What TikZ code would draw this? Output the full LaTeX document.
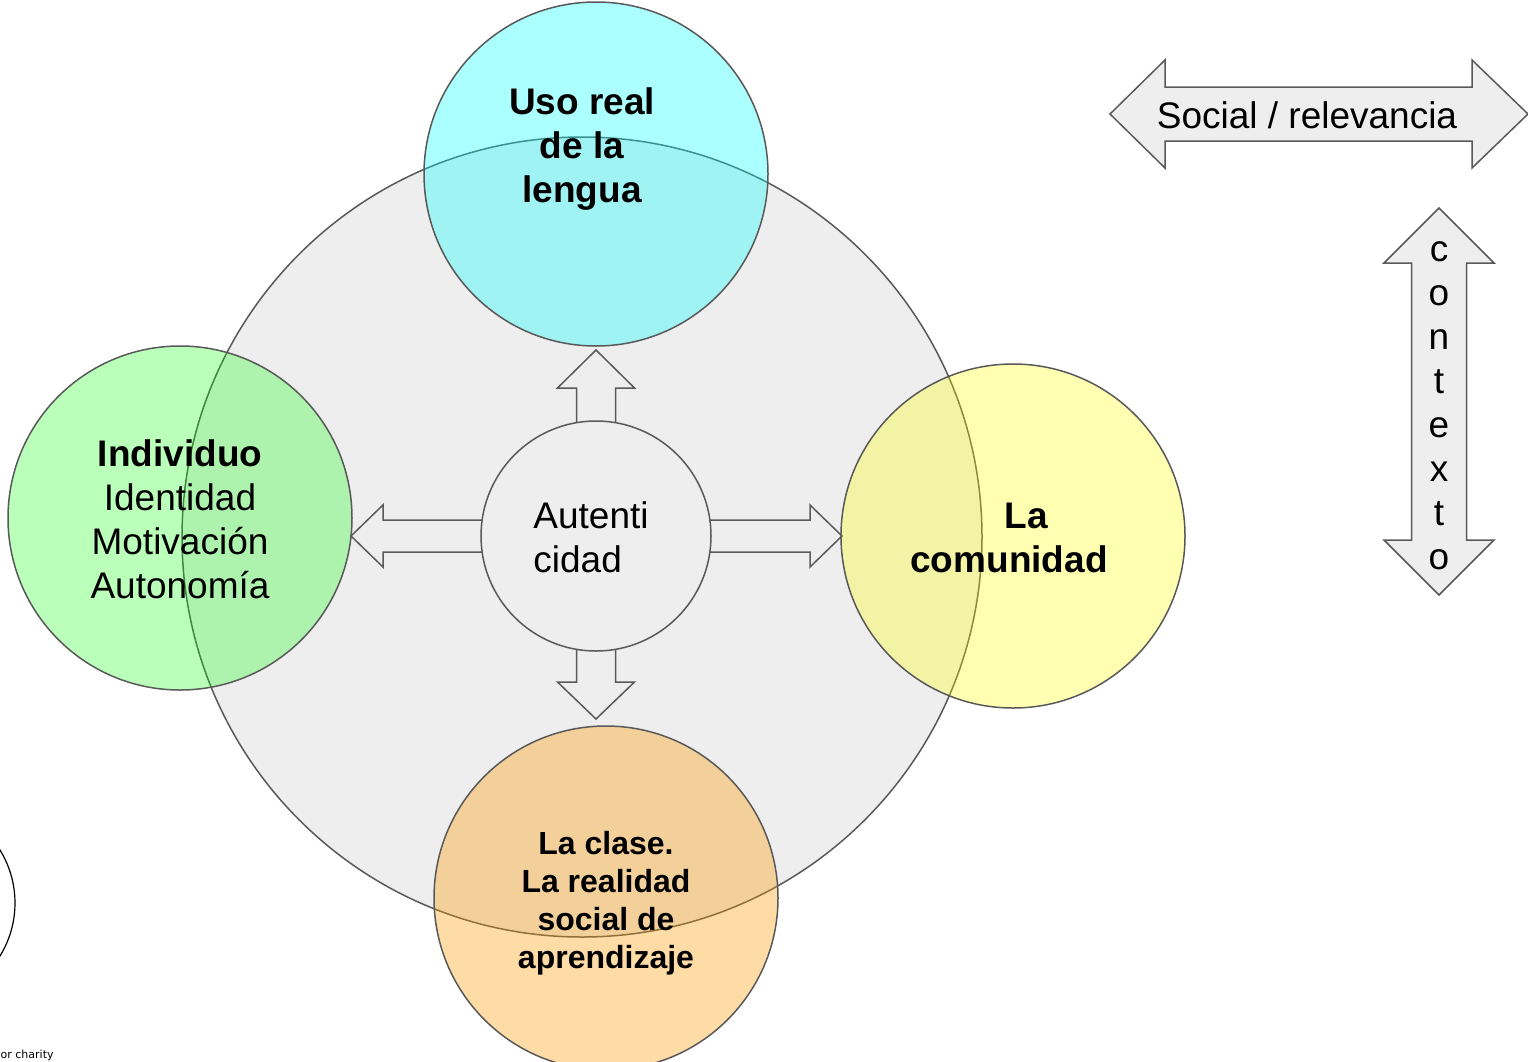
\documentclass[tikz,border=0pt]{standalone}
\usepackage{fontspec}
\setmainfont{Liberation Sans}
\newfontfamily\notefont{DejaVu Sans}
\usetikzlibrary{positioning}
\definecolor{linegray}{HTML}{595959}
\definecolor{bggray}{HTML}{EEEEEE}
\definecolor{usocol}{RGB}{0,255,255}
\definecolor{indcol}{RGB}{0,255,0}
\definecolor{comcol}{RGB}{255,255,0}
\definecolor{clasecol}{RGB}{255,153,0}
\tikzset{ring/.style = {circle, draw=linegray, line width=1.5pt, inner sep=0}}
\tikzset{blob/.style = {ring, minimum size=344pt}}
\tikzset{blockarrow/.style = {draw=linegray, fill=bggray, line width=1.5pt, line join=miter}}
\tikzset{plaintext/.style = {inner sep=0, align=center, font=\fontsize{37}{44}\selectfont}}
\tikzset{boldtext/.style = {plaintext, font=\fontsize{37}{44}\selectfont\bfseries}}

\begin{document}
\begin{tikzpicture}[x=1pt, y=-1pt]
  \useasboundingbox (0,0) rectangle (1528,1061);

  % context circle
  \node [ring, fill=bggray, minimum size=800pt] (big) at (582,537) {};
  \coordinate (mid) at (596,536);

  % block arrows out of the centre
  \foreach \ang/\len/\hl/\hw/\sw in {90/186/38/38.5/19.5, 270/183/37/38.5/19.5, 180/245/32/31/16, 0/246/32/31/16}
    \draw [blockarrow, shift={(mid)}, rotate=\ang]
      (0,-\sw) -- (\len-\hl,-\sw) -- (\len-\hl,-\hw) -- (\len,0) -- (\len-\hl,\hw) -- (\len-\hl,\sw) -- (0,\sw) -- cycle;

  \node [ring, fill=bggray, minimum size=230pt] (aut) at (mid) {};
  \node [plaintext, align=left] (autT) at (591,537) {Autenti\\cidad};

  % the four areas
  \node [blob, fill=usocol, fill opacity=0.33] (uso) at (596,174) {};
  \node [blob, fill=indcol, fill opacity=0.27] (ind) at (180,518) {};
  \node [blob, fill=comcol, fill opacity=0.30] (com) at (1013,536) {};
  \node [blob, fill=clasecol, fill opacity=0.35] (clase) at (606,898) {};

  \node [boldtext] (usoT) at (582,149) {Uso real\\de la\\lengua};
  \node [plaintext] (indT) at (180,519) {\textbf{Individuo}\\Identidad\\Motivación\\Autonomía};
  \node [boldtext] (comT) at (1009,538) {\hspace{34pt}La\\comunidad};
  \node [boldtext, font=\fontsize{32}{38}\selectfont\bfseries] (claseT) at (606,903) {La clase.\\La realidad\\social de\\aprendizaje};

  % social / context arrows
  \draw [blockarrow] (1110,114) -- (1165,60) -- (1165,87) -- (1472,87) -- (1472,60) -- (1528,114)
    -- (1472,168) -- (1472,141) -- (1165,141) -- (1165,168) -- cycle;
  \node [plaintext] (socT) at (1307,115) {Social / relevancia};

  \draw [blockarrow] (1439,208) -- (1494,263) -- (1466.5,263) -- (1466.5,540) -- (1494,540) -- (1439,595)
    -- (1384,540) -- (1411.5,540) -- (1411.5,263) -- (1384,263) -- cycle;
  \node [plaintext] (ctxT) at (1439,406) {c\\o\\n\\t\\e\\x\\t\\o};

  % cut-off bits at the lower left
  \node [circle, draw, line width=1.2pt, minimum size=202pt] (edgeC) at (-86,903) {};
  \node [inner sep=0, anchor=west, font=\notefont\fontsize{11}{13}\selectfont] (note) at (0.5,1055) {or charity};
\end{tikzpicture}
\end{document}
